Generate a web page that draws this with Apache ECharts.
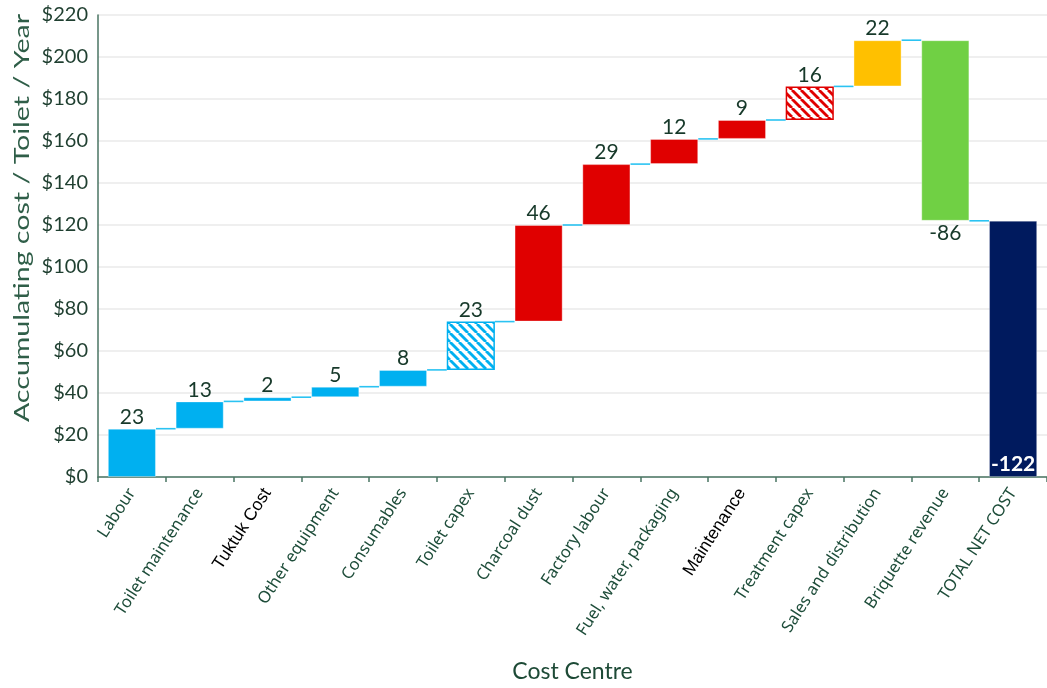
<!DOCTYPE html>
<html>
<head>
<meta charset="utf-8">
<script src="https://cdn.jsdelivr.net/npm/echarts@6/dist/echarts.min.js"></script>
<style>
  html, body { margin: 0; padding: 0; background: #ffffff; }
  #chart { width: 1047px; height: 688px; }
</style>
</head>
<body>
<div id="chart"></div>
<script>
// Cost centres along the horizontal axis
const categories = [
  'Labour', 'Toilet maintenance', 'Tuktuk Cost', 'Other equipment', 'Consumables',
  'Toilet capex', 'Charcoal dust', 'Factory labour', 'Fuel, water, packaging',
  'Maintenance', 'Treatment capex', 'Sales and distribution', 'Briquette revenue',
  'TOTAL NET COST'
];
// Change contributed by each cost centre ($ / toilet / year)
const steps = [23, 13, 2, 5, 8, 23, 46, 29, 12, 9, 16, 22, -86];
// Net result shown on the final bar
const netTotal = -122;
// Value axis ticks
const yMin = 0, yMax = 220, yStep = 20;

// Colour group for each bar (styles only)
const CYAN = '#00B0F0', RED = '#E00000', GOLD = '#FFC000', GREEN = '#70D044', NAVY = '#001A5E';
const barFill = ['c','c','c','c','c','ch','r','r','r','r','rh','g','gr','n'];
const labelsInBlack = ['Tuktuk Cost', 'Maintenance'];

function hatch(color) {
  const s = 9;
  const c = document.createElement('canvas');
  c.width = c.height = s;
  const g = c.getContext('2d');
  g.fillStyle = '#ffffff';
  g.fillRect(0, 0, s, s);
  g.strokeStyle = color;
  g.lineWidth = 2.8;
  for (const o of [-s, 0, s]) {
    g.beginPath();
    g.moveTo(o, 0);
    g.lineTo(o + s, s);
    g.stroke();
  }
  return c;
}

function styleFor(key) {
  const soft = 'rgba(255,255,255,0.35)';
  switch (key) {
    case 'c':  return { color: CYAN, borderColor: soft, borderWidth: 1 };
    case 'ch': return { color: { image: hatch(CYAN), repeat: 'repeat' }, borderColor: CYAN, borderWidth: 1.5 };
    case 'r':  return { color: RED, borderColor: soft, borderWidth: 1 };
    case 'rh': return { color: { image: hatch(RED), repeat: 'repeat' }, borderColor: RED, borderWidth: 1.5 };
    case 'g':  return { color: GOLD, borderColor: soft, borderWidth: 1 };
    case 'gr': return { color: GREEN, borderColor: soft, borderWidth: 1 };
    default:   return { color: NAVY, borderColor: 'rgba(255,255,255,0.25)', borderWidth: 1 };
  }
}

// Waterfall geometry: invisible base + visible segment
const bases = [], heights = [], levels = [];
let running = 0;
steps.forEach(s => {
  if (s >= 0) { bases.push(running); heights.push(s); }
  else { bases.push(running + s); heights.push(-s); }
  running += s;
  levels.push(running);
});
bases.push(0);
heights.push(-netTotal);
const labelValues = steps.concat([netTotal]);

const valueData = heights.map((h, i) => {
  const item = { value: h, itemStyle: styleFor(barFill[i]) };
  if (i === steps.length) {
    item.label = { position: 'insideBottom', distance: 2, color: '#ffffff', fontWeight: 'bold' };
  } else if (labelValues[i] < 0) {
    item.label = { position: 'bottom', distance: 2 };
  }
  return item;
});

const BAR_RATIO = 0.71;
const chart = echarts.init(document.getElementById('chart'), null, { renderer: 'canvas' });

chart.setOption({
  backgroundColor: '#ffffff',
  animation: false,
  grid: { left: 98, top: 15, bottom: 208.5, width: 960 },
  xAxis: {
    type: 'category',
    data: categories.map(c => labelsInBlack.includes(c)
      ? { value: c, textStyle: { color: '#000000', fontFamily: 'Liberation Sans', fontSize: 17.5, padding: [18, 0, 0, 0] } }
      : c),
    axisLine: { show: true, lineStyle: { color: '#4A7563', width: 1.5 } },
    axisTick: { show: true, length: 5, lineStyle: { color: '#4A7563', width: 1.5 } },
    axisLabel: {
      rotate: 57, margin: 13, interval: 0,
      color: '#1E4D3A', fontFamily: 'Noto Sans', fontSize: 16.5
    },
    name: 'Cost Centre',
    nameLocation: 'middle',
    nameGap: 183,
    nameTextStyle: { color: '#1D4A36', fontFamily: 'Lato', fontSize: 23 }
  },
  yAxis: {
    type: 'value',
    min: yMin, max: yMax, interval: yStep,
    axisLine: { show: true, lineStyle: { color: '#4A7563', width: 1.5 } },
    axisTick: { show: false },
    axisLabel: {
      margin: 10, color: '#1F3F30', fontFamily: 'Lato', fontSize: 20,
      formatter: v => '$' + v
    },
    splitLine: { show: true, lineStyle: { color: '#EAEAEA', width: 1.5 } }
  },
  graphic: [{
    type: 'text',
    x: 22, y: 218,
    rotation: Math.PI / 2,
    scaleX: 1.33,
    style: {
      text: 'Accumulating cost / Toilet / Year',
      fill: '#2F5E48',
      font: '21.5px Lato',
      align: 'center',
      verticalAlign: 'middle'
    }
  }],
  series: [
    {
      type: 'bar', stack: 'fall', barWidth: (BAR_RATIO * 100) + '%',
      itemStyle: { color: 'transparent' },
      emphasis: { disabled: true },
      data: bases,
      z: 1
    },
    {
      type: 'bar', stack: 'fall', barWidth: (BAR_RATIO * 100) + '%',
      data: valueData,
      label: {
        show: true, position: 'top', distance: 1,
        color: '#17392A', fontFamily: 'Lato', fontSize: 21,
        formatter: p => String(labelValues[p.dataIndex])
      },
      z: 3
    },
    {
      type: 'custom',
      data: levels.map((v, i) => [i, v]),
      renderItem: (params, api) => {
        const p = api.coord([api.value(0), api.value(1)]);
        const cw = api.size([1, 0])[0];
        const half = cw * BAR_RATIO / 2;
        return {
          type: 'line',
          shape: { x1: p[0] + half, y1: p[1], x2: p[0] + cw - half, y2: p[1] },
          style: { stroke: '#2BC3F2', lineWidth: 1.6 }
        };
      },
      z: 2
    }
  ]
});
</script>
</body>
</html>
